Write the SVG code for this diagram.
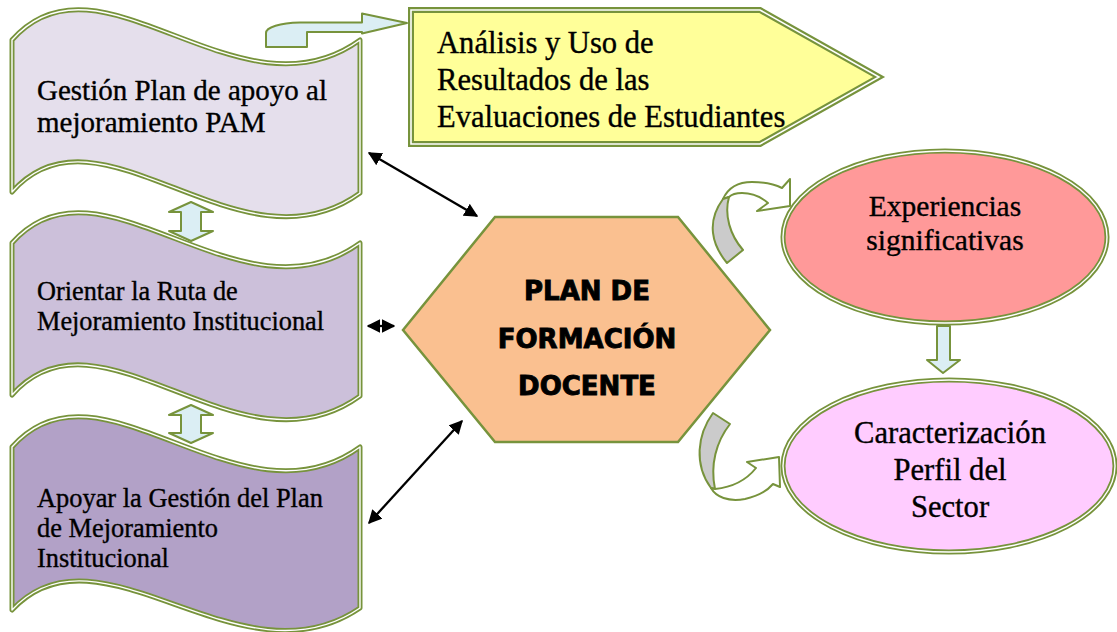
<svg xmlns="http://www.w3.org/2000/svg" width="1117" height="632" viewBox="0 0 1117 632">
<defs>
<style>
.dbl{stroke:#77933C;stroke-width:5;stroke-linejoin:round}
.gap{fill:none;stroke:#fff;stroke-width:1.4;stroke-linejoin:round}
.ser{font-family:"Liberation Serif","Times New Roman",serif;fill:#000;stroke:#000;stroke-width:0.35}
.conn{stroke:#000;stroke-width:2.3;fill:none;marker-start:url(#ah);marker-end:url(#ah)}
.blu{fill:#DBEEF4;stroke:#77933C;stroke-width:2;stroke-linejoin:round}
.gry{fill:#CBCBCB;stroke:#77933C;stroke-width:2;stroke-linejoin:round}
.wht{fill:#fff;stroke:#77933C;stroke-width:2;stroke-linejoin:round}
.hex{font-family:"DejaVu Sans",sans-serif;font-weight:bold;font-size:26px;text-anchor:middle;fill:#000;stroke:#000;stroke-width:0.9}
</style>
<marker id="ah" viewBox="0 0 10 10" refX="9" refY="5" markerWidth="6" markerHeight="6" orient="auto-start-reverse" markerUnits="strokeWidth">
<path d="M0,0 L10,5 L0,10 z" fill="#000"/>
</marker>
</defs>
<rect width="1117" height="632" fill="#fff"/>

<g id="connectors">
<path class="blu" d="M266,47 L266,33 C266,27 280,23 300,22.5 L362,22.5 L362,13.5 L407,23 L362,33.5 L362,32 L307,32 L307,47 Z"/>
<line class="conn" x1="369" y1="153" x2="477" y2="216"/>
<line class="conn" x1="368" y1="326" x2="394" y2="326"/>
<line class="conn" x1="369" y1="523" x2="462" y2="421"/>
<path class="wht" d="M723,199 C728,188 738,182 752,182 C765,182 776,185 782,188 L790,179 L790,206 L757,211 L768,203 C760,196 750,193 742,193 C736,193 731,195 729,197 Z"/>
<path class="gry" d="M723,199 C706,222 712,245 727,263 L743,250 C730,235 724,215 729,197 Z"/>
<path class="gry" d="M713,413 L730,424 C716,442 710,465 715,489 L711,488 C694,465 697,435 713,413 Z"/>
<path class="wht" d="M711,488 C716,497 728,502 745,499 C758,496 768,490 773,484 L780,487 L779,457 L747,462 L756,468 C748,478 735,487 715,489 Z"/>
<path class="blu" d="M937,326 L950,326 L950,360 L960,360 L943,373 L927,360 L937,360 Z"/>
</g>

<g id="n1">
<path class="dbl" fill="#E5DFEC" d="M12,40 C100,-60 240,127 360,40 L360,193 C240,280 100,92 12,192 Z"/>
<path class="gap" d="M12,40 C100,-60 240,127 360,40 L360,193 C240,280 100,92 12,192 Z"/>
<text class="ser" font-size="29" x="37" y="100">Gestión Plan de apoyo al</text>
<text class="ser" font-size="29" x="37" y="132">mejoramiento PAM</text>
</g>

<g id="n2">
<path class="dbl" fill="#CCC0DA" d="M12,243 C100,143 240,330 360,243 L360,396 C240,483 100,295 12,395 Z"/>
<path class="gap" d="M12,243 C100,143 240,330 360,243 L360,396 C240,483 100,295 12,395 Z"/>
<text class="ser" font-size="26.3" x="37" y="300">Orientar la Ruta de</text>
<text class="ser" font-size="26.3" x="37" y="330">Mejoramiento Institucional</text>
</g>

<g id="n3">
<path class="dbl" fill="#B2A1C7" d="M12,447 C100,347 240,534 360,447 L360,608 C240,690 100,515 12,610 Z"/>
<path class="gap" d="M12,447 C100,347 240,534 360,447 L360,608 C240,690 100,515 12,610 Z"/>
<text class="ser" font-size="26.4" x="37" y="507">Apoyar la Gestión del Plan</text>
<text class="ser" font-size="26.4" x="37" y="537">de Mejoramiento</text>
<text class="ser" font-size="26.4" x="37" y="567">Institucional</text>
</g>

<g id="varrows">
<path class="blu" d="M191,202 L213,212 L201,212 L201,231 L213,231 L191,241 L169,231 L181,231 L181,212 L169,212 Z"/>
<path class="blu" d="M191,405 L213,415 L201,415 L201,433 L213,433 L191,443 L169,433 L181,433 L181,415 L169,415 Z"/>
</g>

<g id="n4">
<path fill="#FFFF99" stroke="#77933C" stroke-width="6" stroke-linejoin="miter" d="M411,10 L760,10 L879,77 L760,144 L411,144 Z"/>
<path fill="none" stroke="#fff" stroke-width="1.6" d="M411,10 L760,10 L879,77 L760,144 L411,144 Z"/>
<text class="ser" font-size="30.6" x="437" y="53">Análisis y Uso de</text>
<text class="ser" font-size="30.6" x="437" y="90">Resultados de las</text>
<text class="ser" font-size="30.6" x="437" y="127">Evaluaciones de Estudiantes</text>
</g>

<g id="n5">
<polygon fill="#FAC090" stroke="#77933C" stroke-width="2.5" points="403,330 495,217 678,217 770,330 678,442 495,442"/>
<text class="hex" x="587" y="300">PLAN DE</text>
<text class="hex" x="587" y="348">FORMACIÓN</text>
<text class="hex" x="587" y="395">DOCENTE</text>
</g>

<g id="n6">
<ellipse class="dbl" fill="#FF9999" cx="945" cy="237" rx="162" ry="86"/>
<ellipse class="gap" cx="945" cy="237" rx="162" ry="86"/>
<text class="ser" font-size="29.5" x="945" y="216" text-anchor="middle">Experiencias</text>
<text class="ser" font-size="29.5" x="945" y="250" text-anchor="middle">significativas</text>
</g>

<g id="n7">
<ellipse class="dbl" fill="#FFCCFF" cx="949" cy="466" rx="166" ry="86"/>
<ellipse class="gap" cx="949" cy="466" rx="166" ry="86"/>
<text class="ser" font-size="30.6" x="950" y="443" text-anchor="middle">Caracterización</text>
<text class="ser" font-size="30.6" x="950" y="480" text-anchor="middle">Perfil del</text>
<text class="ser" font-size="30.6" x="950" y="517" text-anchor="middle">Sector</text>
</g>
</svg>
